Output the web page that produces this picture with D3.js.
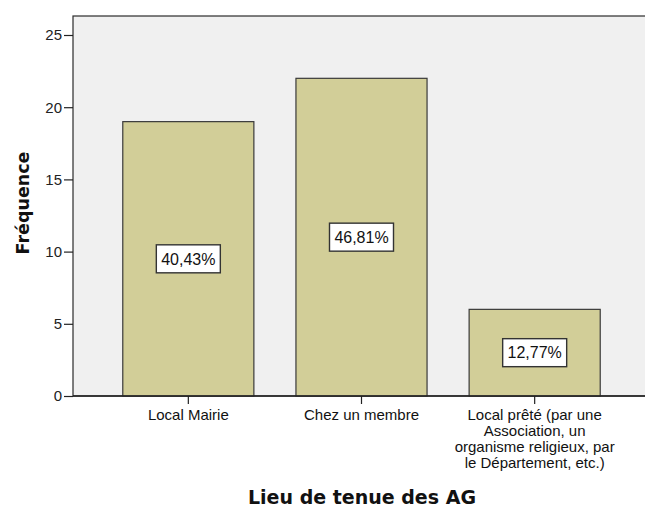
<!DOCTYPE html>
<html>
<head>
<meta charset="utf-8">
<script src="https://cdn.jsdelivr.net/npm/d3@7"></script>
<style>
  body { margin: 0; background: #fff; }
  svg { font-family: Arial, "Liberation Sans", sans-serif; }
</style>
</head>
<body>
<svg id="chart" width="645" height="509"></svg>
<script>
// data
let categories = ["Local Mairie", "Chez un membre",
    "Local prêté (par une Association, un organisme religieux, par le Département, etc.)"];
let catLines = [["Local Mairie"], ["Chez un membre"],
    ["Local prêté (par une", "Association, un", "organisme religieux, par", "le Département, etc.)"]];
let counts = [19, 22, 6];
let pctLabels = ["40,43%", "46,81%", "12,77%"];
let yTicks = [0, 5, 10, 15, 20, 25];

let svg = d3.select("#chart");
let plotLeft = 73, plotTop = 16, plotRight = 648, plotBottom = 396;

// plot background
svg.append("rect")
    .attr("x", plotLeft).attr("y", plotTop)
    .attr("width", plotRight - plotLeft).attr("height", plotBottom - plotTop)
    .attr("fill", "#f0f0f0")
    .attr("stroke", "#2b2b2b").attr("stroke-width", 1.2);

let x = d3.scaleBand()
    .domain(categories)
    .range([102, 621])
    .paddingInner(0.243)
    .paddingOuter(0.12);

let y = d3.scaleLinear()
    .domain([0, 25])
    .range([plotBottom, 35]);

// bars
svg.selectAll("rect.bar")
    .data(counts).enter()
    .append("rect")
    .attr("class", "bar")
    .attr("x", (d, i) => x(categories[i]))
    .attr("y", d => y(d))
    .attr("width", x.bandwidth())
    .attr("height", d => plotBottom - y(d))
    .attr("fill", "#d2ce98")
    .attr("stroke", "#3a3a3a")
    .attr("stroke-width", 1.2);

// percentage labels
let lab = svg.selectAll("g.lab")
    .data(counts).enter()
    .append("g")
    .attr("class", "lab")
    .attr("transform", (d, i) => "translate(" + (x(categories[i]) + x.bandwidth() / 2) + "," + ((y(d) + plotBottom) / 2) + ")");
lab.append("rect")
    .attr("x", -32).attr("y", -14)
    .attr("width", 64).attr("height", 28)
    .attr("fill", "#fff")
    .attr("stroke", "#333").attr("stroke-width", 1.4);
lab.append("text")
    .attr("text-anchor", "middle")
    .attr("dy", "0.36em")
    .attr("font-size", 16)
    .attr("fill", "#111")
    .text((d, i) => pctLabels[i]);

// y axis
let axisY = d3.axisLeft(y).tickValues(yTicks).tickSize(9).tickPadding(2);
let gy = svg.append("g").attr("transform", "translate(" + plotLeft + ",0)").call(axisY);
gy.select(".domain").remove();
gy.selectAll(".tick line").attr("stroke", "#222").attr("stroke-width", 1.2);
gy.selectAll(".tick text").attr("font-size", 15).attr("fill", "#222")
    .style("font-family", "Arial, 'Liberation Sans', sans-serif");

// x axis
let axisX = d3.axisBottom(x).tickSize(8).tickFormat("");
let gx = svg.append("g").attr("transform", "translate(0," + plotBottom + ")").call(axisX);
gx.select(".domain").remove();
gx.selectAll(".tick line").attr("stroke", "#222").attr("stroke-width", 1.2);
svg.append("line")
    .attr("x1", plotLeft).attr("x2", plotRight)
    .attr("y1", plotBottom).attr("y2", plotBottom)
    .attr("stroke", "#222").attr("stroke-width", 1.4);

// category labels
categories.forEach(function(c, i) {
    let t = svg.append("text")
        .attr("text-anchor", "middle")
        .attr("font-size", 15)
        .attr("fill", "#111")
        .attr("x", x(c) + x.bandwidth() / 2)
        .attr("y", 420);
    catLines[i].forEach(function(line, j) {
        t.append("tspan")
            .attr("x", x(c) + x.bandwidth() / 2)
            .attr("dy", j === 0 ? 0 : 16)
            .text(line);
    });
});

// axis titles
svg.append("text")
    .attr("x", 362)
    .attr("y", 504)
    .attr("text-anchor", "middle")
    .style("font-family", "'DejaVu Sans', Verdana, sans-serif")
    .attr("font-size", 19)
    .attr("font-weight", "bold")
    .attr("fill", "#111")
    .text("Lieu de tenue des AG");

svg.append("text")
    .attr("transform", "translate(29,203) rotate(-90)")
    .attr("text-anchor", "middle")
    .style("font-family", "'DejaVu Sans', Verdana, sans-serif")
    .attr("font-size", 17.5)
    .attr("font-weight", "bold")
    .attr("fill", "#111")
    .text("Fréquence");
</script>
</body>
</html>
